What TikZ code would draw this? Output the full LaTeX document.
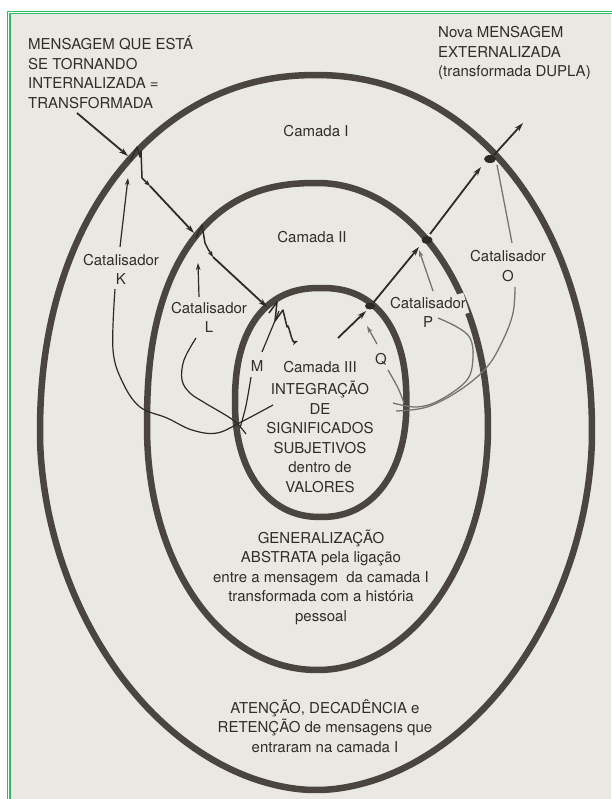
\documentclass[tikz,border=0pt]{standalone}
\usepackage{fontspec}
\setmainfont{TeX Gyre Heros}
\usetikzlibrary{arrows.meta}
\definecolor{paper}{HTML}{E9E8E3}
\definecolor{ringc}{HTML}{4A453E}
\definecolor{ink}{HTML}{2E2B27}
\definecolor{txt}{HTML}{302D2A}
\definecolor{catk}{HTML}{2C2A27}
\definecolor{catg}{HTML}{77746F}
\definecolor{frame}{HTML}{2DBE60}
\tikzset{
  sq/.style n args={7}{insert path={plot[domain=#1:#2,samples=40,variable=\t,smooth] ({#3+#5*cos(\t)*abs(cos(\t))^(2/#7-1)},{#4+#6*sin(\t)*abs(sin(\t))^(2/#7-1)})}},
  sqc/.style n args={7}{insert path={-- plot[domain=#1:#2,samples=40,variable=\t,smooth] ({#3+#5*cos(\t)*abs(cos(\t))^(2/#7-1)},{#4+#6*sin(\t)*abs(sin(\t))^(2/#7-1)})}},
  ring/.style={draw=ringc, line width=6.5pt},
  msg/.style={draw=ink, line width=1.8pt, -{Stealth[length=9pt,width=5.5pt]}},
  msgs/.style={draw=ink, line width=1.5pt, line join=round, -{Stealth[length=6pt,width=4.5pt]}},
  cat/.style={draw=catk, line width=1.2pt},
  catg/.style={draw=catg, line width=1.3pt},
  catarr/.style={draw=catk, line width=1.2pt, -{Stealth[length=7pt,width=4.5pt]}},
  catgarr/.style={draw=catg, line width=1.3pt, -{Stealth[length=7pt,width=4.5pt]}},
  lbl/.style={text=txt, font=\fontsize{15}{19.5}\selectfont, inner sep=0pt, align=center},
  blob/.style={fill=ink, draw=none}
}
\begin{document}
\begin{tikzpicture}[x=1pt,y=-1pt]
\useasboundingbox (0,0) rectangle (611,799);
\fill[white] (0,0) rectangle (611,799);
\fill[paper] (10,13) rectangle (611,799);
\draw[frame, line width=0.9pt] (7.3,800) -- (7.3,11) -- (612,11);
\draw[frame, line width=1.5pt] (10,800) -- (10,13.6) -- (612,13.6);

% rings
\draw[ring] [sq={0.3}{89.7}{316}{432}{276}{358}{1.9}] [sqc={90.3}{179.7}{316}{432}{276}{358}{1.9}] [sqc={180.3}{269.7}{316}{432}{276}{357}{2.12}] [sqc={270.3}{359.7}{316}{432}{276}{357}{2.08}] -- cycle;
\draw[ring] [sq={0.3}{89.7}{317.5}{426.5}{170.5}{243.5}{2.0}] [sqc={90.3}{179.7}{317.5}{426.5}{170.5}{243.5}{2.05}] [sqc={180.3}{269.7}{317.5}{426.5}{170.5}{243.5}{2.4}] [sqc={270.3}{359.7}{317.5}{426.5}{170.5}{243.5}{2.0}] -- cycle;
\draw[ring] [sq={0.3}{89.7}{320.7}{402.5}{85.7}{114.5}{2.2}] [sqc={90.3}{179.7}{320.7}{402.5}{85.7}{114.5}{2.2}] [sqc={180.3}{269.7}{320.7}{402.5}{85.7}{114.5}{2.35}] [sqc={270.3}{359.7}{320.7}{402.5}{85.7}{114.5}{2.35}] -- cycle;
% gap in middle ring
\draw[paper, line width=9pt] (459,294) -- (465,314);

% texts
\node[lbl, align=left, anchor=west] (tin) at (28,72.5) {MENSAGEM QUE ESTÁ\\SE TORNANDO\\INTERNALIZADA =\\TRANSFORMADA};
\node[lbl, align=left, anchor=west] (tout) at (438,53) {Nova MENSAGEM\\EXTERNALIZADA\\(transformada DUPLA)};
\node[lbl] (c1) at (316,131) {Camada I};
\node[lbl] (c2) at (312,237) {Camada II};
\node[lbl] (c3) at (320,367) {Camada III};
\node[lbl] (t3) at (320,437) {INTEGRAÇÃO\\DE\\SIGNIFICADOS\\SUBJETIVOS\\dentro de\\VALORES};
\node[lbl] (t2) at (321,577) {GENERALIZAÇÃO\\ABSTRATA pela ligação\\entre a mensagem\ \ da camada I\\transformada com a história\\pessoal};
\node[lbl] (t1) at (325,726) {ATENÇÃO, DECADÊNCIA e\\RETENÇÃO de mensagens que\\entraram na camada I};
\node[lbl] (kK) at (121,269.5) {Catalisador\\K};
\node[lbl] (kL) at (209,317.5) {Catalisador\\L};
\node[lbl] (kO) at (508,266) {Catalisador\\O};
\node[lbl] (kP) at (428,312.5) {Catalisador\\P};
\node[lbl] (kM) at (257,366) {M};
\node[lbl] (kQ) at (381,359) {Q};

% main message path: entering
\coordinate (s0) at (77,113);
\coordinate (x1) at (128,156);
\draw[msg] (s0) -- (x1);
\coordinate (w1a) at (130,161);
\coordinate (w1b) at (150,186);
\draw[msgs] (w1a) -- (137,147) -- (140,157) -- (141,151) -- (142,178) -- (w1b);
\coordinate (x2) at (194,233);
\draw[msg] (w1b) -- (x2);
\coordinate (w2a) at (196,238);
\coordinate (w2b) at (213,257);
\draw[msgs] (w2a) -- (202,225) -- (205,243) -- (208,249) -- (w2b);
\coordinate (x3) at (267,307);
\draw[msg] (w2b) -- (x3);
\coordinate (w3a) at (269,313);
\coordinate (w3b) at (298,341);
\draw[msgs] (w3a) -- (277,302) -- (275,321) -- (283,310) -- (287,327) to[out=80,in=200] (w3b);
% exiting
\coordinate (e0) at (338,338);
\coordinate (y1) at (366,311);
\draw[msg] (e0) -- (y1);
\fill[blob] (370,306) ellipse (5pt and 3.5pt);
\coordinate (e1) at (373,303);
\coordinate (y2) at (419,247);
\draw[msg] (e1) -- (y2);
\fill[blob] (427,240) ellipse (5.5pt and 4pt);
\coordinate (e2) at (430,234);
\coordinate (y3) at (481,167);
\draw[msg] (e2) -- (y3);
\fill[blob] (490,159) ellipse (6pt and 4pt);
\coordinate (e3) at (494,155);
\coordinate (y4) at (523,123);
\draw[msg] (e3) -- (y4);

% catalysts left
\coordinate (kKt) at (120,247);
\coordinate (kKe) at (128,178);
\draw[catarr] (kKt) -- (kKe);
\coordinate (kKs) at (115,289);
\coordinate (kKend) at (273,405);
\draw[cat] plot[smooth, tension=0.6] coordinates {(kKs) (113,350) (123,383) (140,407) (167,418) (192,430) (217,433) (243,421) (kKend)};
\coordinate (kLt) at (199,297);
\coordinate (kLe) at (198,263);
\draw[catarr] (kLt) -- (kLe);
\coordinate (kLs) at (196,338);
\coordinate (kLend) at (246,434);
\draw[cat] plot[smooth, tension=0.6] coordinates {(kLs) (184,360) (182,380) (190,393) (205,403) (233,420) (kLend)};
\coordinate (kMt) at (262,352);
\coordinate (kMe) at (279,311);
\draw[cat] (kMt) -- (kMe);
\coordinate (kMs) at (251,377);
\coordinate (kMend) at (240,428);
\draw[cat] plot[smooth, tension=0.6] coordinates {(kMs) (248,395) (245,410) (kMend)};

% catalysts right
\coordinate (kQt) at (377,344);
\coordinate (kQe) at (367,326);
\draw[catgarr] (kQt) -- (kQe);
\coordinate (kQs) at (388,370);
\coordinate (kQend) at (404,403);
\draw[catg] plot[smooth] coordinates {(kQs) (398,388) (kQend)};
\coordinate (kPt) at (433,291);
\coordinate (kPe) at (419,250);
\draw[catgarr] (kPt) -- (kPe);
\coordinate (kPs) at (438,318);
\coordinate (kPend) at (393,403);
\draw[catg] plot[smooth, tension=0.6] coordinates {(kPs) (457,327) (470,338) (473,357) (467,380) (440,400) (417,407) (kPend)};
\coordinate (kOt) at (512,243);
\coordinate (kOe) at (497,165);
\draw[catg] (kOt) -- (kOe);
\coordinate (kOs) at (515,287);
\coordinate (kOend) at (396,411);
\draw[catg] plot[smooth, tension=0.6] coordinates {(kOs) (513,313) (503,340) (487,367) (460,390) (427,407) (kOend)};
\end{tikzpicture}
\end{document}
